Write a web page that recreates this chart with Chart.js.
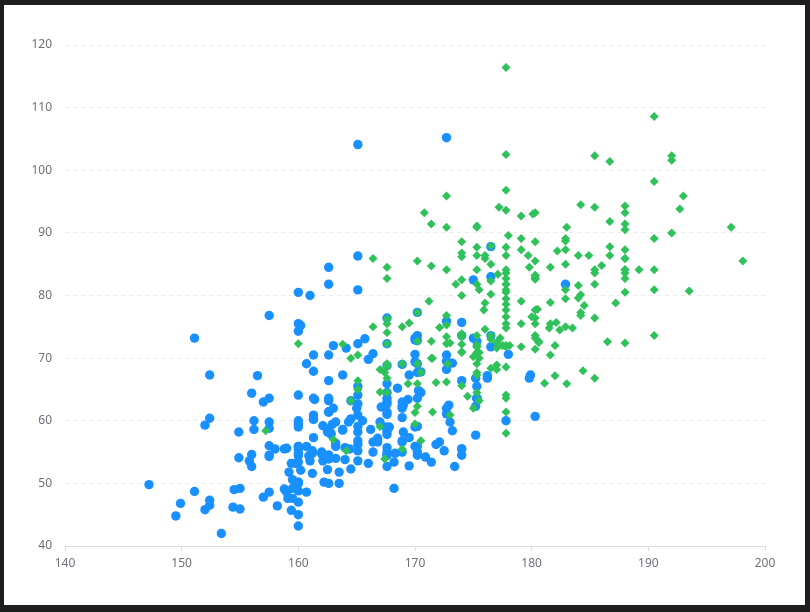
<!DOCTYPE html>
<html>
<head>
<meta charset="utf-8">
<script src="https://cdn.jsdelivr.net/npm/chart.js@4/dist/chart.umd.min.js"></script>
<style>
  html, body { margin: 0; padding: 0; background: #1e1e1e; }
  #panel { position: absolute; left: 4px; top: 5px; width: 801px; height: 600px; background: #fff; }
  #wrap { position: absolute; left: 0; top: 0; width: 810px; height: 612px; }
</style>
</head>
<body>
<div id="panel"></div>
<div id="wrap"><canvas id="grafica_dispersion" width="810" height="612"></canvas></div>
<script>
// ejes
var xTicks = [140, 150, 160, 170, 180, 190, 200];
var yTicks = [40, 50, 60, 70, 80, 90, 100, 110, 120];

// [altura cm, peso kg]
var femaleData = [
  [161.2, 51.6], [167.5, 59.0], [159.5, 49.2], [157.0, 63.0], [155.8, 53.6], [170.0, 59.0], [159.1, 47.6], [166.0, 69.8],
  [176.2, 66.8], [160.2, 75.2], [172.5, 55.2], [170.9, 54.2], [172.9, 62.5], [153.4, 42.0], [160.0, 50.0], [147.2, 49.8],
  [168.2, 49.2], [175.0, 73.2], [157.0, 47.8], [167.6, 68.8], [159.5, 50.6], [175.0, 82.5], [166.8, 57.2], [176.5, 87.8],
  [170.2, 72.8], [174.0, 54.5], [173.0, 59.8], [179.9, 67.3], [170.5, 67.8], [160.0, 47.0], [154.4, 46.2], [162.0, 55.0],
  [176.5, 83.0], [160.0, 54.4], [152.0, 45.8], [162.1, 53.6], [170.0, 73.2], [160.2, 52.1], [161.3, 67.9], [166.4, 56.6],
  [168.9, 62.3], [163.8, 58.5], [167.6, 54.5], [160.0, 50.2], [161.3, 60.3], [167.6, 58.3], [165.1, 56.2], [160.0, 50.2],
  [170.0, 72.9], [157.5, 59.8], [167.6, 61.0], [160.7, 69.1], [163.2, 55.9], [152.4, 46.5], [157.5, 54.3], [168.3, 54.8],
  [180.3, 60.7], [165.5, 60.0], [165.0, 62.0], [164.5, 60.3], [156.0, 52.7], [160.0, 74.3], [163.0, 62.0], [165.7, 73.1],
  [161.0, 80.0], [162.0, 54.7], [166.0, 53.2], [174.0, 75.7], [172.7, 61.1], [167.6, 55.7], [151.1, 48.7], [164.5, 52.3],
  [163.5, 50.0], [152.0, 59.3], [169.0, 62.5], [164.0, 55.7], [161.2, 54.8], [155.0, 45.9], [170.0, 70.6], [176.2, 67.2],
  [170.0, 69.4], [162.5, 58.2], [170.3, 64.8], [164.1, 71.6], [169.5, 52.8], [163.2, 59.8], [154.5, 49.0], [159.8, 50.0],
  [173.2, 69.2], [170.0, 55.9], [161.4, 63.4], [169.0, 58.2], [166.2, 58.6], [159.4, 45.7], [162.5, 52.2], [159.0, 48.6],
  [162.8, 57.8], [159.0, 55.6], [179.8, 66.8], [162.9, 59.4], [161.0, 53.6], [151.1, 73.2], [168.2, 53.4], [168.9, 69.0],
  [173.2, 58.4], [171.8, 56.2], [178.0, 70.6], [164.3, 59.8], [163.0, 72.0], [168.5, 65.2], [166.8, 56.6], [172.7, 105.2],
  [163.5, 51.8], [169.4, 63.4], [167.8, 59.0], [159.5, 47.6], [167.6, 63.0], [161.2, 55.2], [160.0, 45.0], [163.2, 54.0],
  [162.2, 50.2], [161.3, 60.2], [149.5, 44.8], [157.5, 58.8], [163.2, 56.4], [172.7, 62.0], [155.0, 49.2], [156.5, 67.2],
  [164.0, 53.8], [160.9, 54.4], [162.8, 58.0], [167.0, 59.8], [160.0, 54.8], [160.0, 43.2], [168.9, 60.5], [158.2, 46.4],
  [156.0, 64.4], [160.0, 48.8], [167.1, 62.2], [158.0, 55.5], [167.6, 57.8], [156.0, 54.6], [162.1, 59.2], [173.4, 52.7],
  [159.8, 53.2], [170.5, 64.5], [159.2, 51.8], [157.5, 56.0], [161.3, 63.6], [162.6, 63.2], [160.0, 59.5], [168.9, 56.8],
  [165.1, 64.1], [162.6, 50.0], [165.1, 72.3], [166.4, 55.0], [160.0, 55.9], [152.4, 60.4], [170.2, 69.1], [162.6, 84.5],
  [170.2, 55.9], [158.8, 55.5], [172.7, 69.5], [167.6, 76.4], [162.6, 61.4], [167.6, 65.9], [156.2, 58.6], [175.2, 66.8],
  [172.1, 56.6], [162.6, 58.6], [160.0, 55.9], [165.1, 59.1], [182.9, 81.8], [166.4, 70.7], [165.1, 56.8], [177.8, 60.0],
  [165.1, 58.2], [175.3, 72.7], [154.9, 54.1], [158.8, 49.1], [172.7, 75.9], [168.9, 55.0], [161.3, 57.3], [167.6, 55.0],
  [165.1, 65.5], [175.3, 65.5], [157.5, 48.6], [163.8, 58.6], [167.6, 63.6], [165.1, 55.2], [165.1, 62.7], [168.9, 56.6],
  [162.6, 53.9], [164.5, 63.2], [176.5, 73.6], [168.9, 62.0], [175.3, 63.6], [159.4, 53.2], [160.0, 53.4], [170.2, 55.0],
  [162.6, 70.5], [167.6, 54.5], [162.6, 54.5], [160.7, 55.9], [160.0, 59.0], [157.5, 63.6], [162.6, 54.5], [152.4, 47.3],
  [170.2, 67.7], [165.1, 80.9], [172.7, 70.5], [165.1, 60.9], [170.2, 63.6], [170.2, 54.5], [170.2, 59.1], [161.3, 70.5],
  [167.6, 52.7], [167.6, 62.7], [165.1, 86.3], [162.6, 66.4], [152.4, 67.3], [168.9, 63.0], [170.2, 73.6], [175.2, 62.3],
  [175.2, 57.7], [160.0, 55.4], [165.1, 104.1], [174.0, 55.5], [170.2, 77.3], [160.0, 80.5], [167.6, 64.5], [167.6, 72.3],
  [167.6, 61.4], [154.9, 58.2], [162.6, 81.8], [175.3, 63.6], [171.4, 53.4], [157.5, 54.5], [165.1, 53.6], [160.0, 60.0],
  [174.0, 73.6], [162.6, 61.4], [174.0, 55.5], [162.6, 63.6], [161.3, 60.9], [156.2, 60.0], [149.9, 46.8], [169.5, 57.3],
  [160.0, 64.1], [175.3, 63.6], [169.5, 67.3], [160.0, 75.5], [172.7, 68.2], [162.6, 61.4], [157.5, 76.8], [176.5, 71.8],
  [164.4, 55.5], [160.7, 48.6], [174.0, 66.4], [163.8, 67.3]
];

var maleData = [
  [174.0, 65.6], [175.3, 71.8], [193.5, 80.7], [186.5, 72.6], [187.2, 78.8], [181.5, 74.8], [184.0, 86.4], [184.5, 78.4],
  [175.0, 62.0], [184.0, 81.6], [180.0, 76.6], [177.8, 83.6], [192.0, 90.0], [176.0, 74.6], [174.0, 71.0], [184.0, 79.6],
  [192.7, 93.8], [171.5, 70.0], [173.0, 72.4], [176.0, 85.9], [176.0, 78.8], [180.5, 77.8], [172.7, 66.2], [176.0, 86.4],
  [173.5, 81.8], [178.0, 89.6], [180.3, 82.8], [180.3, 76.4], [164.5, 63.2], [173.0, 60.9], [183.5, 74.8], [175.5, 70.0],
  [188.0, 72.4], [189.2, 84.1], [172.8, 69.1], [170.0, 59.5], [182.0, 67.2], [170.0, 61.3], [177.8, 68.6], [184.2, 80.1],
  [186.7, 87.8], [171.4, 84.7], [172.7, 73.4], [175.3, 72.1], [180.3, 82.6], [182.9, 88.7], [188.0, 84.1], [177.2, 94.1],
  [172.1, 74.9], [167.0, 59.1], [169.5, 75.6], [174.0, 86.2], [172.7, 75.3], [182.2, 87.1], [164.1, 55.2], [163.0, 57.0],
  [171.5, 61.4], [184.2, 76.8], [174.0, 86.8], [174.0, 72.2], [177.0, 71.6], [186.0, 84.8], [167.0, 68.2], [171.8, 66.1],
  [182.0, 72.0], [167.0, 64.6], [177.8, 74.8], [164.5, 70.0], [192.0, 101.6], [175.5, 63.2], [171.2, 79.1], [181.6, 78.9],
  [167.4, 67.7], [181.1, 66.0], [177.0, 68.2], [174.5, 63.9], [177.5, 72.0], [170.5, 56.8], [182.4, 74.5], [197.1, 90.9],
  [180.1, 93.0], [175.5, 80.9], [180.6, 72.7], [184.4, 68.0], [175.5, 70.9], [180.6, 72.5], [177.0, 72.5], [177.1, 83.4],
  [181.6, 75.5], [176.5, 73.0], [175.0, 70.2], [174.0, 73.4], [165.1, 70.5], [177.0, 68.9], [192.0, 102.3], [176.5, 68.4],
  [169.4, 65.9], [182.1, 75.7], [179.8, 84.5], [175.3, 87.7], [184.9, 86.4], [177.3, 73.2], [167.4, 53.9], [178.1, 72.0],
  [168.9, 55.5], [157.2, 58.4], [180.3, 83.2], [170.2, 72.7], [177.8, 64.1], [172.7, 72.3], [165.1, 65.0], [186.7, 86.4],
  [165.1, 65.0], [174.0, 88.6], [175.3, 84.1], [185.4, 66.8], [177.8, 75.5], [180.3, 93.2], [180.3, 82.7], [177.8, 58.0],
  [177.8, 79.5], [177.8, 78.6], [177.8, 71.8], [177.8, 116.4], [163.8, 72.2], [188.0, 83.6], [198.1, 85.5], [175.3, 90.9],
  [166.4, 85.9], [190.5, 89.1], [166.4, 75.0], [177.8, 77.7], [179.7, 86.4], [172.7, 90.9], [190.5, 73.6], [185.4, 76.4],
  [168.9, 69.1], [167.6, 84.5], [175.3, 64.5], [170.2, 69.1], [190.5, 108.6], [177.8, 86.4], [190.5, 80.9], [177.8, 87.7],
  [184.2, 94.5], [176.5, 80.2], [177.8, 72.0], [180.3, 71.4], [171.4, 72.7], [172.7, 84.1], [172.7, 76.8], [177.8, 63.6],
  [177.8, 80.9], [182.9, 80.9], [170.2, 85.5], [167.6, 68.6], [175.3, 67.7], [165.1, 66.4], [185.4, 102.3], [181.6, 70.5],
  [172.7, 95.9], [190.5, 84.1], [179.1, 87.3], [175.3, 71.8], [170.2, 65.9], [193.0, 95.9], [171.4, 91.4], [177.8, 81.8],
  [177.8, 96.8], [167.6, 69.1], [167.6, 82.7], [180.3, 75.5], [182.9, 79.5], [176.5, 73.6], [186.7, 91.8], [188.0, 84.1],
  [188.0, 85.9], [177.8, 81.8], [174.0, 82.5], [177.8, 80.5], [171.4, 70.0], [185.4, 81.8], [185.4, 84.1], [188.0, 90.5],
  [188.0, 91.4], [182.9, 89.1], [176.5, 85.0], [175.3, 69.1], [175.3, 73.6], [188.0, 80.5], [188.0, 82.7], [175.3, 86.4],
  [170.5, 67.7], [179.1, 92.7], [177.8, 93.6], [175.3, 70.9], [182.9, 75.0], [170.8, 93.2], [188.0, 93.2], [180.3, 77.7],
  [177.8, 61.4], [185.4, 94.1], [168.9, 75.0], [185.4, 83.6], [180.3, 85.5], [174.0, 73.9], [167.6, 66.8], [182.9, 87.3],
  [160.0, 72.3], [180.3, 88.6], [167.6, 75.5], [186.7, 101.4], [175.3, 91.1], [175.3, 67.3], [175.9, 77.7], [175.3, 81.8],
  [179.1, 75.5], [181.6, 84.5], [177.8, 76.6], [182.9, 85.0], [177.8, 102.5], [184.2, 77.3], [179.1, 71.8], [176.5, 87.9],
  [188.0, 94.3], [174.0, 70.9], [167.6, 64.5], [170.2, 77.3], [167.6, 72.3], [188.0, 87.3], [174.0, 80.0], [176.5, 82.3],
  [180.3, 73.6], [167.6, 74.1], [188.0, 85.9], [180.3, 73.2], [167.6, 76.3], [183.0, 65.9], [183.0, 90.9], [179.1, 89.1],
  [170.2, 62.3], [177.8, 82.7], [179.1, 79.1], [190.5, 98.2], [177.8, 84.1], [180.3, 83.2], [180.3, 83.2]
];

function toPoints(arr){
    var out = new Array();
    arr.forEach(function(p){
        out.push({x: p[0], y: p[1]});
    });
    return out;
}

var colorTexto = '#6e7079';

var chartOptions = {
    responsive: false,
    animation: false,
    layout: { padding: { top: 45, right: 45, left: 0, bottom: 0 } },
    plugins: {
        legend: { display: false },
        tooltip: { enabled: false }
    },
    scales: {
        x: {
            type: 'linear',
            min: xTicks[0],
            max: xTicks[xTicks.length - 1],
            afterBuildTicks: function(scale){
                scale.ticks = xTicks.map(function(v){ return {value: v}; });
            },
            afterFit: function(scale){ scale.height = 66; },
            grid: { drawOnChartArea: false, drawTicks: true, tickLength: 5, tickColor: '#dcdcdc' },
            border: { display: true, color: '#dcdcdc', width: 1 },
            ticks: { color: colorTexto, padding: 5, font: { family: 'Noto Sans', size: 12 } }
        },
        y: {
            type: 'linear',
            min: yTicks[0],
            max: yTicks[yTicks.length - 1],
            afterBuildTicks: function(scale){
                scale.ticks = yTicks.map(function(v){ return {value: v}; });
            },
            afterFit: function(scale){ scale.width = 65; },
            grid: { drawTicks: false, color: '#ebebeb', lineWidth: 1 },
            border: { display: false, dash: [4, 4] },
            ticks: { color: colorTexto, padding: 13, font: { family: 'Noto Sans', size: 12 } }
        }
    }
};

var ctx = document.getElementById("grafica_dispersion");
var scatterChart = new Chart(ctx, {
    type: 'scatter',
    data: {
        datasets: [{
            label: 'Female',
            data: toPoints(femaleData),
            backgroundColor: '#1890ff',
            borderWidth: 0,
            pointStyle: 'circle',
            pointRadius: 4.7,
            order: 1
        }, {
            label: 'Male',
            data: toPoints(maleData),
            backgroundColor: '#2fc25b',
            borderWidth: 0,
            pointStyle: 'rectRot',
            pointRadius: 4.5,
            order: 0
        }]
    },
    options: chartOptions
});
</script>
</body>
</html>
